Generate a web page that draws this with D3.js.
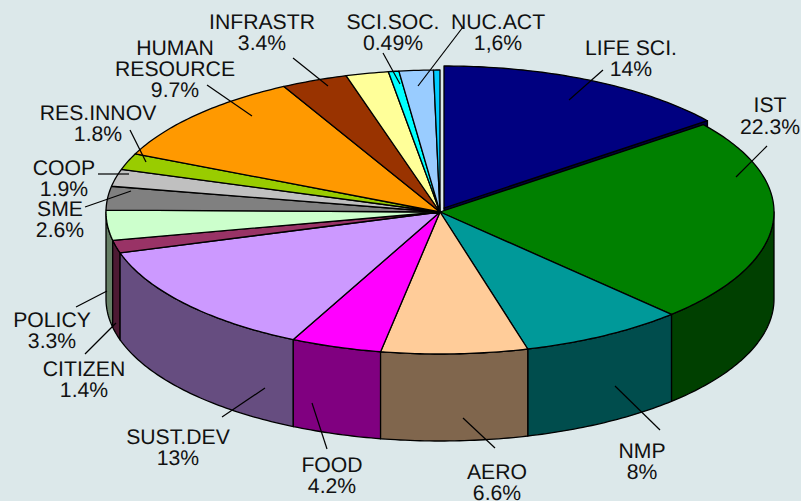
<!DOCTYPE html>
<html><head><meta charset="utf-8">
<script src="https://cdn.jsdelivr.net/npm/d3@7"></script>
<style>html,body{margin:0;padding:0;background:#dce8ea}svg{display:block}text{font-family:"Liberation Sans",Arial,sans-serif;font-size:21.2px;fill:#111;text-rendering:geometricPrecision}</style>
</head><body><svg id="c" width="801" height="501"></svg>
<script>
const categories = ["LIFE SCI.","IST","NMP","AERO","FOOD","SUST.DEV","CITIZEN","POLICY","SME","COOP","RES.INNOV","HUMAN RESOURCE","INFRASTR","OTHER","SCI.SOC.","NUC.ACT","FISSION"];
// slice sizes
const values = [14,22.6,7.7,6.85,4.25,12.7,1.4,3.3,2.6,1.9,1.8,10.2,3.1,2.0,0.49,1.6,0.3];
const valueLabels = ["14%","22.3%","8%","6.6%","4.2%","13%","1.4%","3.3%","2.6%","1.9%","1.8%","9.7%","3.4%",null,"0.49%","1,6%",null];
const colors = ["#000080","#008000","#009999","#ffcc99","#ff00ff","#cc99ff","#993366","#ccffcc","#808080","#c0c0c0","#99cc00","#ff9900","#993300","#ffff99","#00ffff","#99ccff","#00ccff"];

// layout of the annotation text and leader lines, by category
const labelLayout = {
 "LIFE SCI.":{x:631,lines:[55,76],lead:[603,70,569,100]},
 "IST":{x:770,lines:[112,134],lead:[767,146,736,177]},
 "NMP":{x:642,lines:[458,479],lead:[660,430,615,386]},
 "AERO":{x:497,lines:[479,500],lead:[495,448,463,418]},
 "FOOD":{x:332,lines:[472,493],lead:[327,449,312,403]},
 "SUST.DEV":{x:178,lines:[444,465],lead:[222,417,265,388]},
 "CITIZEN":{x:84,lines:[376,397],lead:[85,354,116,323]},
 "POLICY":{x:52,lines:[327,348],lead:[76,307,107,291]},
 "SME":{x:60,lines:[216,237],lead:[85,207,131,191]},
 "COOP":{x:64,lines:[175,196],lead:[98,174,129,174]},
 "RES.INNOV":{x:98,lines:[120,141],lead:[130,130,146,162]},
 "HUMAN RESOURCE":{x:175,lines:[55,76,97],lead:[207,85,252,116]},
 "INFRASTR":{x:262,lines:[29,50],lead:[293,58,328,86]},
 "SCI.SOC.":{x:393,lines:[29,50],lead:[383,53,400,84]},
 "NUC.ACT":{x:498,lines:[29,50],lead:[463,27,418,86]}
};

const cx=440, cy=212, rx=334, ry=142, depth=87, explode=[4,-4];
const svg=d3.select("#c");
svg.append("rect").attr("width",801).attr("height",501).attr("fill","#dce8ea");

const arcs=d3.pie().sort(null).value(d=>d)(values);
const sx=d3.scaleLinear().domain([-1,1]).range([cx-rx,cx+rx]);
const sy=d3.scaleLinear().domain([-1,1]).range([cy-ry,cy+ry]);
const line=d3.line();
const pt=(a,o,dy=0)=>[sx(Math.sin(a))+o[0], sy(-Math.cos(a))+o[1]+dy];
const samples=(a0,a1)=>{const n=Math.max(2,Math.ceil((a1-a0)/0.015));return d3.range(n+1).map(i=>a0+(a1-a0)*i/n);};
const dark=c=>{const r=d3.rgb(c);return d3.rgb(r.r*.5,r.g*.5,r.b*.5).formatHex();};
const styled=(sel)=>sel.attr("stroke","#000").attr("stroke-width",1.3).attr("stroke-linejoin","round");

const offs=i=>i===0?explode:[0,0];
const order=arcs.map((d,i)=>i);

// radial wall of the pulled-out slice, seen through the gap
{
 const o=offs(0), a=arcs[0], apex=[cx+o[0],cy+o[1]], tip=pt(a.endAngle,o);
 styled(svg.append("path")).attr("fill",dark(colors[0]))
  .attr("d",line([apex,tip,[tip[0],tip[1]+depth],[apex[0],apex[1]+depth]])+"Z");
}
// outer walls, front half only
const front0=Math.PI/2, front1=Math.PI*1.5;
order.filter(i=>arcs[i].endAngle>front0&&arcs[i].startAngle<front1)
 .sort((p,q)=>Math.abs((arcs[q].startAngle+arcs[q].endAngle)/2-Math.PI)-Math.abs((arcs[p].startAngle+arcs[p].endAngle)/2-Math.PI))
 .forEach(i=>{
  const a0=Math.max(arcs[i].startAngle,front0),a1=Math.min(arcs[i].endAngle,front1);
  const as=samples(a0,a1);
  const pts=as.map(a=>pt(a,[0,0])).concat(as.slice().reverse().map(a=>pt(a,[0,0],depth)));
  styled(svg.append("path")).attr("fill",dark(colors[i])).attr("d",line(pts)+"Z");
 });
// top faces
order.forEach(i=>{
 const o=offs(i),a=arcs[i];
 const pts=[[cx+o[0],cy+o[1]]].concat(samples(a.startAngle,a.endAngle).map(t=>pt(t,o)));
 styled(svg.append("path")).attr("fill",colors[i]).attr("d",line(pts)+"Z");
});
// labels
categories.forEach((c,i)=>{
 const l=labelLayout[c]; if(!l) return;
 svg.append("line").attr("x1",l.lead[0]).attr("y1",l.lead[1]).attr("x2",l.lead[2]).attr("y2",l.lead[3]).attr("stroke","#000").attr("stroke-width",1.2);
 const words=c==="HUMAN RESOURCE"?["HUMAN","RESOURCE",valueLabels[i]]:[c,valueLabels[i]];
 words.forEach((w,k)=>svg.append("text").attr("x",l.x).attr("y",l.lines[k]).attr("text-anchor","middle").text(w));
});
</script></body></html>
